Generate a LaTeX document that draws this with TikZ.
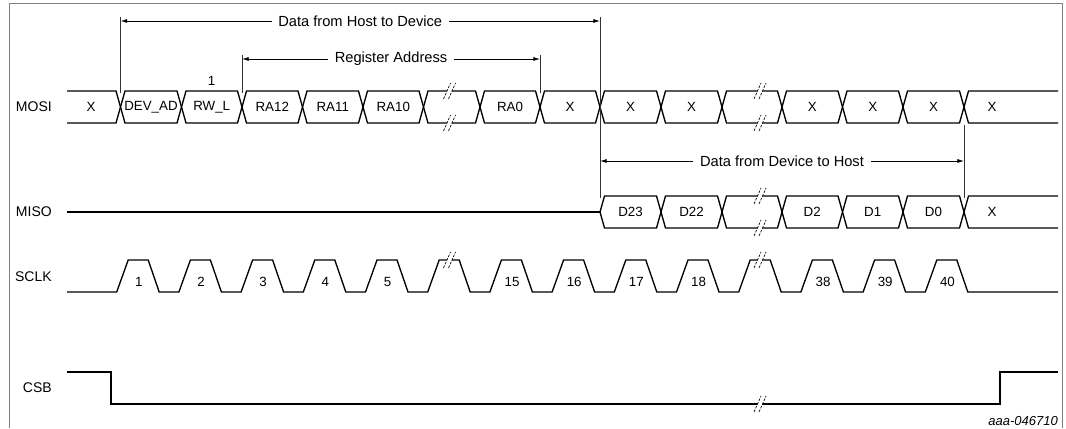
\documentclass[tikz,border=0pt]{standalone}
\usepackage{fontspec}
\setmainfont{Liberation Sans}
\usetikzlibrary{arrows.meta}
\newcommand\brkmark[2]{%
  \fill[white] ({#1-3.8},{#2+3}) -- ({#1+1.2},{#2+3}) -- ({#1+3.8},{#2-3}) -- ({#1-1.2},{#2-3}) -- cycle;
  \draw[brkline] ({#1-6},{#2+8}) -- ({#1+1},{#2-8});
  \draw[brkline] ({#1-1},{#2+8}) -- ({#1+6},{#2-8});
}
\begin{document}
\begin{tikzpicture}[x=0.75pt,y=-0.75pt,
  sig/.style={line width=1pt, line join=miter},
  ann/.style={line width=0.6pt, black!80},
  dim/.style={line width=0.6pt, {Latex[length=5pt,width=3pt]}-{Latex[length=5pt,width=3pt]}},
  dimtxt/.style={fill=white, font=\fontsize{11}{13}\selectfont, inner xsep=5pt, inner ysep=1pt},
  bustxt/.style={font=\fontsize{10}{12}\selectfont, inner sep=0pt},
  lbl/.style={font=\fontsize{10.5}{12}\selectfont, anchor=east, inner sep=0pt},
  brkline/.style={line width=0.5pt, dash pattern=on 2pt off 1pt}
]
\useasboundingbox (0,0) rectangle (1066,428);
\draw[gray, line width=0.75pt] (9,428) -- (9,4) -- (1062,4) -- (1062,428);

% signal labels
\node[lbl] (lmosi) at (52,107) {MOSI};
\node[lbl] (lmiso) at (52,212) {MISO};
\node[lbl] (lsclk) at (52,277) {SCLK};
\node[lbl] (lcsb)  at (52,388) {CSB};

% MOSI bus
\draw[sig] (67,91) -- (116,91) -- (120.5,107) -- (116,123) -- (67,123);
\node[bustxt] (m0) at (91,107) {X};
\foreach \a/\b/\t/\n in {120.5/181.5/DEV\_AD/m1, 181.5/242/RW\_L/m2, 242/302.5/RA12/m3,
  302.5/363/RA11/m4, 363/423.5/RA10/m5, 480/540/RA0/m7, 540/600/X/m8, 600/661/X/m9,
  661/722/X/m10, 782/842.5/X/m12, 842.5/903/X/m13, 903/964/X/m14}{
  \draw[sig] (\a,107) -- (\a+4.5,91) -- (\b-4.5,91) -- (\b,107) -- (\b-4.5,123) -- (\a+4.5,123) -- cycle;
  \node[bustxt] (\n) at ({(\a+\b)/2},107) {\t};
}
\foreach \a/\b in {423.5/480, 722/782}{
  \draw[sig] (\a,107) -- (\a+4.5,91) -- (\b-4.5,91) -- (\b,107) -- (\b-4.5,123) -- (\a+4.5,123) -- cycle;
}
\draw[sig] (1058,91) -- (968.5,91) -- (964,107) -- (968.5,123) -- (1058,123);
\node[bustxt] (m15) at (992,107) {X};
\brkmark{449.5}{91}\brkmark{449.5}{123}
\brkmark{760}{91}\brkmark{760}{123}
\node[bustxt] (one) at (211.5,81) {1};

% MISO bus
\draw[sig] (67,212) -- (600,212);
\foreach \a/\b/\t/\n in {600/661/D23/s1, 661/722/D22/s2, 782/842.5/D2/s4,
  842.5/903/D1/s5, 903/964/D0/s6}{
  \draw[sig] (\a,212) -- (\a+4.5,196) -- (\b-4.5,196) -- (\b,212) -- (\b-4.5,228) -- (\a+4.5,228) -- cycle;
  \node[bustxt] (\n) at ({(\a+\b)/2},212) {\t};
}
\draw[sig] (722,212) -- (726.5,196) -- (777.5,196) -- (782,212) -- (777.5,228) -- (726.5,228) -- cycle;
\draw[sig] (1058,196) -- (968.5,196) -- (964,212) -- (968.5,228) -- (1058,228);
\node[bustxt] (s7) at (992,212) {X};
\brkmark{760}{196}\brkmark{760}{228}

% SCLK
\draw[sig] (67,292) \foreach \k in {0,...,13}{
  -- ({116.7+62.2*\k},292) -- ({128.2+62.2*\k},260) -- ({148.2+62.2*\k},260) -- ({159.2+62.2*\k},292)
  } -- (1058,292);
\foreach \k/\t in {0/1,1/2,2/3,3/4,4/5,6/15,7/16,8/17,9/18,11/38,12/39,13/40}{
  \node[bustxt] (c\t) at ({138.8+62.2*\k},282) {\t};
}
\brkmark{449.5}{260}\brkmark{760}{260}

% CSB
\draw[sig] (67,372) -- (111,372) -- (111,404) -- (1000,404) -- (1000,372) -- (1058,372);
\brkmark{760}{404}

% annotations
\coordinate (a1t) at (120.5,17); \coordinate (a1b) at (120.5,93);
\coordinate (a2t) at (600,17);   \coordinate (a2b) at (600,198);
\coordinate (r1t) at (242,55);   \coordinate (r1b) at (242,93);
\coordinate (r2t) at (540,55);   \coordinate (r2b) at (540,93);
\coordinate (d2t) at (964,125);  \coordinate (d2b) at (964,198);
\draw[ann] (a1t) -- (a1b);
\draw[ann] (a2t) -- (a2b);
\draw[ann] (r1t) -- (r1b);
\draw[ann] (r2t) -- (r2b);
\draw[ann] (d2t) -- (d2b);

\coordinate (h1) at (120.5,21); \coordinate (h2) at (600,21);
\coordinate (g1) at (242,59);   \coordinate (g2) at (540,59);
\coordinate (e1) at (600,161);  \coordinate (e2) at (964,161);
\draw[dim] (h1) -- node[dimtxt] (th) {Data from Host to Device} (h2);
\draw[dim] (g1) -- node[dimtxt] (tg) {Register Address} (g2);
\draw[dim] (e1) -- node[dimtxt] (te) {Data from Device to Host} (e2);

\node[font=\itshape\fontsize{9.75}{11}\selectfont, anchor=base east, inner sep=0pt] (fid) at (1058,425) {aaa-046710};
\end{tikzpicture}
\end{document}
